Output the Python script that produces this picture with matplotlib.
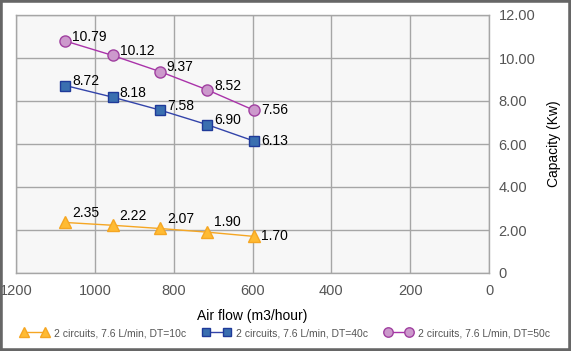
import matplotlib
matplotlib.use("Agg")
import matplotlib.pyplot as plt
from matplotlib.patches import Rectangle

plt.rcParams['font.family'] = ['Liberation Sans', 'DejaVu Sans']

# data
airflow = [1075, 955, 835, 715, 595]
dt10 = [2.35, 2.22, 2.07, 1.90, 1.70]
dt40 = [8.72, 8.18, 7.58, 6.90, 6.13]
dt50 = [10.79, 10.12, 9.37, 8.52, 7.56]
labels = ["2 circuits, 7.6 L/min, DT=10c",
          "2 circuits, 7.6 L/min, DT=40c",
          "2 circuits, 7.6 L/min, DT=50c"]
xticks = [1200, 1000, 800, 600, 400, 200, 0]
yticks = [0, 2, 4, 6, 8, 10, 12]

fig = plt.figure(figsize=(5.71, 3.51), dpi=100)
ax = fig.add_axes([16/571, 1-273/351, (489-16)/571, (273-15)/351])
ax.set_facecolor('#f7f7f7')

# frame around the whole figure
fig.patches.append(Rectangle((0, 0), 1, 1, transform=fig.transFigure,
                             fill=False, edgecolor='#666666', linewidth=4))

series = [
    (dt10, labels[0], '^', '#ffbb33', '#f5a623', '#f5a623', 9, 7),
    (dt40, labels[1], 's', '#3a6fb0', '#1f3a99', '#3344aa', 7, 3),
    (dt50, labels[2], 'o', '#cc99cc', '#a040a0', '#aa33aa', 8, 3),
]
for vals, lab, mk, fc, ec, lc, ms, dy in series:
    ax.plot(airflow, vals, color=lc, linewidth=1, marker=mk, markersize=ms,
            markerfacecolor=fc, markeredgecolor=ec, markeredgewidth=1,
            label=lab, zorder=3)
    for i, (x, v) in enumerate(zip(airflow, vals)):
        off = (5, 0) if i == len(vals) - 1 else (5, dy)
        ax.annotate(f"{v:.2f}", (x, v), xytext=off, textcoords='offset points',
                    ha='left', va='center', fontsize=10, color='black', zorder=4)

ax.set_xlim(1200, 0)
ax.set_ylim(0, 12)
ax.set_xticks(xticks)
ax.set_yticks(yticks)
ax.set_yticklabels(["0"] + [f"{t:.2f}" for t in yticks[1:]])
ax.yaxis.tick_right()
ax.yaxis.set_label_position('right')
ax.tick_params(axis='both', length=0, labelsize=10.5, labelcolor='#555555')
ax.tick_params(axis='y', pad=7)
ax.tick_params(axis='x', pad=8)
ax.grid(True, color='#a6a6a6', linewidth=1)
ax.set_axisbelow(True)
for s in ax.spines.values():
    s.set_color('#a6a6a6')
    s.set_linewidth(1)

ax.set_xlabel("Air flow (m3/hour)", fontsize=10, labelpad=8)
ax.set_ylabel("Capacity (Kw)", fontsize=10, labelpad=8)

fig.legend(loc='lower center', bbox_to_anchor=(0.5, 0.01), ncol=3, frameon=False,
           fontsize=7.5, labelcolor='#555555', handlelength=2.6, numpoints=2,
           markerscale=0.85, columnspacing=1.6, handletextpad=0.6)

fig.savefig('out.png', dpi=100)
